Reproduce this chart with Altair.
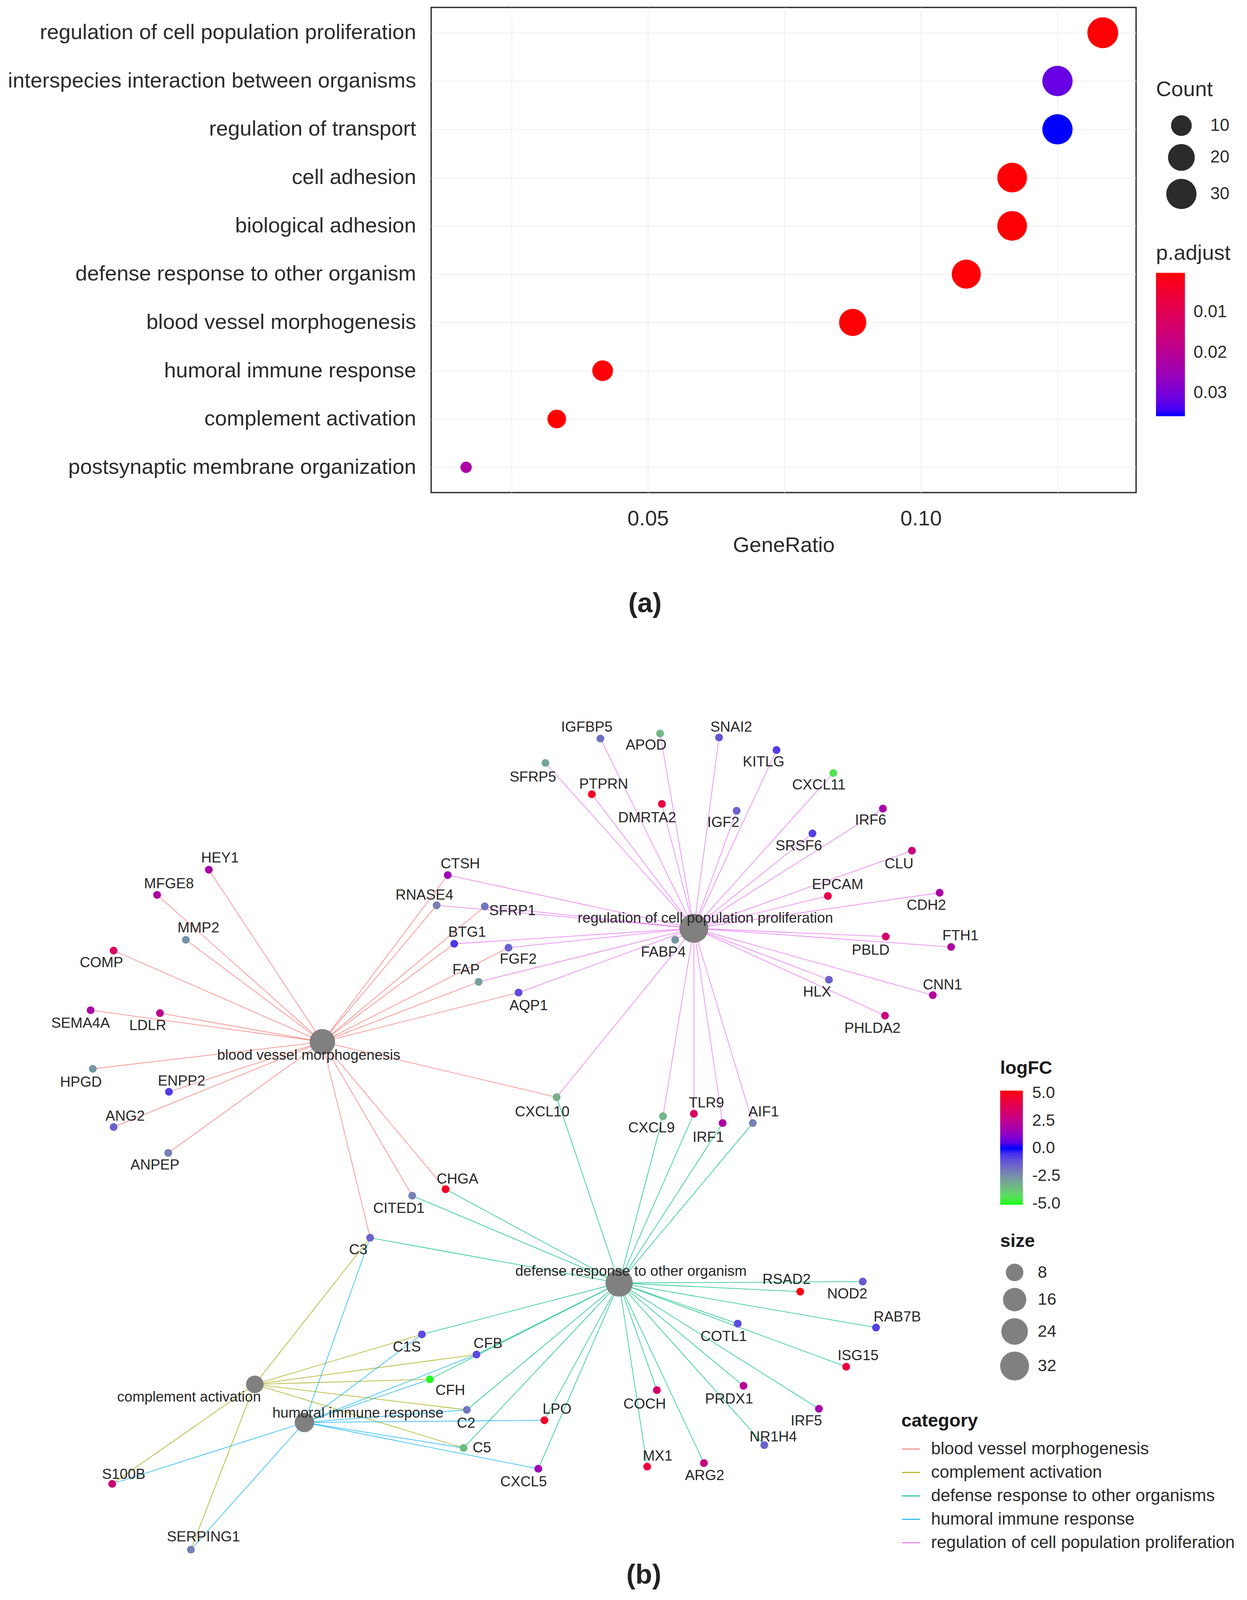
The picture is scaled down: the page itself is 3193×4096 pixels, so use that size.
import altair as alt
import pandas as pd

FONT = "Liberation Sans"
TXT = "#2b2b2b"

# ---------------- (a) GO enrichment dot plot ----------------
terms = [
    "regulation of cell population proliferation",
    "interspecies interaction between organisms",
    "regulation of transport",
    "cell adhesion",
    "biological adhesion",
    "defense response to other organism",
    "blood vessel morphogenesis",
    "humoral immune response",
    "complement activation",
    "postsynaptic membrane organization",
]
gene_ratio = [0.1333, 0.1250, 0.1250, 0.1167, 0.1167, 0.1083, 0.0875, 0.0417, 0.0333, 0.0167]
counts = [32, 30, 30, 28, 28, 26, 21, 10, 8, 4]
p_adjust = [0.0005, 0.0316, 0.0357, 0.0005, 0.0005, 0.0006, 0.0005, 0.0006, 0.0003, 0.0226]

dot_df = pd.DataFrame({"Description": terms, "GeneRatio": gene_ratio,
                       "Count": counts, "padj": p_adjust})

dot = alt.Chart(dot_df).transform_calculate(
    neg_p="-datum.padj"
).mark_circle(opacity=1).encode(
    x=alt.X("GeneRatio:Q",
            scale=alt.Scale(domain=[0.0103, 0.1394], nice=False, zero=False),
            axis=alt.Axis(values=[0.025, 0.05, 0.075, 0.1, 0.125],
                          labelExpr="abs(datum.value-0.05)<1e-9 || abs(datum.value-0.1)<1e-9 ? format(datum.value,'.2f') : ''",
                          grid=True, gridColor="#ebebeb", gridWidth=1.6,
                          ticks=False, tickSize=0, domain=False,
                          labelFontSize=54.5, labelColor=TXT, labelPadding=40,
                          labelFont=FONT,
                          title="GeneRatio", titleFontSize=54.5, titleFontWeight="normal",
                          titleColor=TXT, titlePadding=15, titleFont=FONT)),
    y=alt.Y("Description:N", sort=terms,
            scale=alt.Scale(type="point", padding=0.524),
            axis=alt.Axis(title=None, grid=True, gridColor="#ebebeb", gridWidth=1.6,
                          ticks=False, tickSize=0, domain=False,
                          labelFontSize=54.5, labelColor=TXT, labelPadding=39,
                          labelLimit=2000, labelFont=FONT)),
    size=alt.Size("Count:Q",
                  scale=alt.Scale(type="pow", exponent=0.3, domain=[4, 32], range=[841, 6241]),
                  legend=alt.Legend(title="Count", values=[10, 20, 30], orient="none",
                                    legendX=1856, legendY=184,
                                    titleFontSize=54.5, titleFontWeight="normal", titleColor=TXT,
                                    titleFont=FONT, titlePadding=37, titleLimit=1000,
                                    labelFontSize=44, labelColor=TXT, labelFont=FONT,
                                    labelOffset=35, symbolOffset=26,
                                    symbolFillColor="#2b2b2b", symbolStrokeWidth=0,
                                    symbolOpacity=1, symbolType="circle", rowPadding=20)),
    color=alt.Color("neg_p:Q",
                    scale=alt.Scale(domain=[-0.0357, -0.0003], range=["#0000ff", "#ff0000"],
                                    interpolate="lab"),
                    legend=alt.Legend(title="p.adjust", orient="none", direction="vertical",
                                      legendX=1856, legendY=603,
                                      values=[-0.03, -0.02, -0.01],
                                      labelExpr="format(-datum.value, '.2f')",
                                      gradientLength=367, gradientThickness=74,
                                      gradientStrokeWidth=0, labelOverlap=False,
                                      titleFontSize=54.5, titleFontWeight="normal",
                                      titleColor=TXT, titleFont=FONT, titlePadding=22,
                                      titleLimit=1000,
                                      labelFontSize=44, labelColor=TXT, labelFont=FONT,
                                      labelOffset=22)),
).properties(
    width=1805, height=1242,
    view=alt.ViewBackground(stroke="#333333", strokeWidth=3.5),
    title=alt.TitleParams(text="(a)", orient="bottom", anchor="middle", frame="group",
                          dx=-355, offset=89, fontSize=70, fontWeight="bold",
                          font=FONT, color="#222222"),
)

# ---------------- (b) gene-concept network ----------------
gene_names = ["IGFBP5", "APOD", "SNAI2", "KITLG", "SFRP5", "PTPRN", "DMRTA2", "CXCL11",
              "IGF2", "IRF6", "SRSF6", "CLU", "EPCAM", "CDH2", "PBLD", "FTH1", "FABP4",
              "HLX", "CNN1", "PHLDA2", "FGF2", "AQP1", "SFRP1", "CTSH", "RNASE4", "BTG1",
              "FAP", "CXCL10", "CXCL9", "TLR9", "IRF1", "AIF1",
              "HEY1", "MFGE8", "MMP2", "COMP", "SEMA4A", "LDLR", "HPGD", "ENPP2", "ANG2",
              "ANPEP", "CHGA", "CITED1", "C3",
              "RSAD2", "NOD2", "RAB7B", "COTL1", "ISG15", "PRDX1", "COCH", "IRF5", "NR1H4",
              "ARG2", "MX1", "LPO", "CXCL5",
              "C1S", "CFB", "CFH", "C2", "C5", "S100B", "SERPING1"]
gene_x = [1669, 1835, 1999, 2159, 1516, 1645, 1840, 2317,
          2048, 2455, 2259, 2536, 2302, 2613, 2463, 2645, 1877,
          2305, 2594, 2461, 1413, 1441, 1347, 1244, 1213, 1262,
          1330, 1547, 1843, 1929, 2009, 2093,
          579, 435, 515, 314, 250, 443, 256, 468, 314,
          466, 1238, 1145, 1028,
          2225, 2399, 2436, 2051, 2353, 2067, 1826, 2277, 2125,
          1957, 1799, 1513, 1496,
          1172, 1324, 1194, 1297, 1288, 310, 529]
gene_y = [2054, 2040, 2051, 2086, 2122, 2209, 2236, 2150,
          2255, 2249, 2318, 2366, 2492, 2483, 2605, 2634, 2614,
          2725, 2768, 2825, 2636, 2761, 2521, 2434, 2518, 2625,
          2731, 3052, 3105, 3098, 3124, 3124,
          2419, 2489, 2614, 2644, 2810, 2818, 2973, 3037, 3135,
          3207, 3308, 3326, 3443,
          3593, 3565, 3693, 3682, 3802, 3855, 3867, 3919, 4020,
          4070, 4080, 3951, 4086,
          3712, 3768, 3837, 3922, 4028, 4128, 4311]
gene_logfc = [-1.8, -3.5, -1.2, -0.7, -3.0, 4.8, 4.2, -4.5,
              -1.5, 1.8, -0.8, 2.8, 4.0, 2.0, 3.2, 2.0, -2.6,
              -1.5, 2.2, 2.8, -1.5, -1.0, -1.9, 1.6, -2.2, -0.6,
              -2.9, -3.3, -3.4, 3.6, 2.0, -2.2,
              1.9, 2.0, -2.6, 3.5, 2.0, 2.5, -2.7, -0.7, -1.5,
              -2.2, 4.8, -2.2, -1.5,
              5.0, -1.3, -0.8, -1.0, 4.3, 2.3, 3.3, 1.8, -1.5,
              2.8, 4.3, 4.7, 1.6,
              -1.0, -1.0, -5.0, -1.9, -3.5, 3.0, -2.2]
gene_label_x = [1631, 1796, 2033, 2123, 1481, 1678, 1799, 2277,
                2011, 2421, 2221, 2500, 2329, 2576, 2421, 2671, 1844,
                2272, 2621, 2426, 1440, 1469, 1424, 1279, 1179, 1298,
                1295, 1507, 1811, 1964, 1969, 2123,
                610, 468, 550, 280, 222, 409, 223, 503, 346,
                429, 1271, 1108, 995,
                2187, 2356, 2495, 2012, 2386, 2027, 1792, 2242, 2150,
                1959, 1828, 1548, 1455,
                1130, 1356, 1251, 1295, 1339, 342, 564]
gene_label_y = [2023, 2073, 2023, 2120, 2162, 2181, 2275, 2184,
                2288, 2281, 2353, 2403, 2461, 2518, 2643, 2603, 2649,
                2760, 2740, 2861, 2669, 2798, 2534, 2403, 2490, 2593,
                2698, 3094, 3138, 3068, 3164, 3094,
                2387, 2459, 2581, 2678, 2847, 2853, 3011, 3008, 3105,
                3241, 3280, 3362, 3477,
                3560, 3600, 3664, 3718, 3772, 3892, 3906, 3953, 3998,
                4105, 4051, 3921, 4123,
                3748, 3738, 3868, 3960, 4028, 4102, 4276]

cat_labels = ["regulation of cell population proliferation", "blood vessel morphogenesis",
              "defense response to other organism", "complement activation",
              "humoral immune response"]
cat_legend = ["regulation of cell population proliferation", "blood vessel morphogenesis",
              "defense response to other organisms", "complement activation",
              "humoral immune response"]
cat_x = [1929, 895, 1721, 707, 845]
cat_y = [2582, 2898, 3569, 3851, 3957]
cat_size = [32, 21, 26, 8, 10]
cat_label_x = [1961, 857, 1754, 524, 994]
cat_label_y = [2554, 2936, 3537, 3887, 3931]

members_prolif = ["IGFBP5", "APOD", "SNAI2", "KITLG", "SFRP5", "PTPRN", "DMRTA2", "CXCL11",
                  "IGF2", "IRF6", "SRSF6", "CLU", "EPCAM", "CDH2", "PBLD", "FTH1", "FABP4",
                  "HLX", "CNN1", "PHLDA2", "FGF2", "AQP1", "SFRP1", "CTSH", "RNASE4", "BTG1",
                  "FAP", "CXCL10", "CXCL9", "TLR9", "IRF1", "AIF1"]
members_bvm = ["HEY1", "MFGE8", "MMP2", "COMP", "SEMA4A", "LDLR", "HPGD", "ENPP2", "ANG2",
               "ANPEP", "CTSH", "RNASE4", "SFRP1", "BTG1", "FGF2", "FAP", "AQP1", "CXCL10",
               "CHGA", "CITED1", "C3"]
members_defense = ["CXCL10", "CXCL9", "TLR9", "IRF1", "AIF1", "CHGA", "CITED1", "C3",
                   "RSAD2", "NOD2", "RAB7B", "COTL1", "ISG15", "PRDX1", "IRF5", "NR1H4",
                   "ARG2", "MX1", "COCH", "LPO", "CXCL5", "C5", "C2", "CFH", "CFB", "C1S"]
members_complement = ["C3", "C1S", "CFB", "CFH", "C2", "C5", "S100B", "SERPING1"]
members_humoral = ["C3", "C1S", "CFB", "CFH", "C2", "LPO", "C5", "CXCL5", "S100B", "SERPING1"]
members = [members_prolif, members_bvm, members_defense, members_complement, members_humoral]

legend_order = ["blood vessel morphogenesis", "complement activation",
                "defense response to other organisms", "humoral immune response",
                "regulation of cell population proliferation"]
legend_colors = ["#F8766D", "#A3A500", "#00BF7D", "#00B0F6", "#E76BF3"]

genes_df = pd.DataFrame({"name": gene_names, "x": gene_x, "y": gene_y, "logFC": gene_logfc,
                         "lx": gene_label_x, "ly": gene_label_y})
cats_df = pd.DataFrame({"name": cat_labels, "category": cat_legend, "x": cat_x, "y": cat_y,
                        "size": cat_size, "lx": cat_label_x, "ly": cat_label_y})
gpos = genes_df.set_index("name")
rows = []
for i, mem in enumerate(members):
    for g in mem:
        rows.append({"category": cat_legend[i], "x": cat_x[i], "y": cat_y[i],
                     "x2": int(gpos.loc[g, "x"]), "y2": int(gpos.loc[g, "y"])})
edges_df = pd.DataFrame(rows)

XS = alt.Scale(domain=[1197.8, 3159.8], nice=False, zero=False)
YS = alt.Scale(domain=[1950, 4340], nice=False, zero=False, reverse=True)

edges = alt.Chart(edges_df).mark_rule(strokeWidth=1.8, opacity=0.8).encode(
    x=alt.X("x:Q", scale=XS, axis=None),
    y=alt.Y("y:Q", scale=YS, axis=None),
    x2="x2:Q", y2="y2:Q",
    color=alt.Color("category:N",
                    scale=alt.Scale(domain=legend_order, range=legend_colors),
                    legend=alt.Legend(title="category", orient="none", legendX=1204, legendY=1820,
                                      symbolType="stroke", symbolStrokeWidth=3, symbolSize=2116,
                                      symbolOpacity=0.8,
                                      titleFontSize=47, titleFontWeight="bold", titleColor="#1a1a1a",
                                      titleFont=FONT, titlePadding=23, titleLimit=1000,
                                      labelFontSize=44, labelColor=TXT, labelFont=FONT,
                                      labelOffset=27, rowPadding=13, labelLimit=2000)),
)

gene_nodes = alt.Chart(genes_df).mark_circle(opacity=1, size=400).encode(
    x=alt.X("x:Q", scale=XS, axis=None),
    y=alt.Y("y:Q", scale=YS, axis=None),
    fill=alt.Fill("logFC:Q",
                  scale=alt.Scale(domain=[-5.11, 0, 5.21],
                                  range=["#00ff00", "#0000ff", "#ff0000"], interpolate="lab"),
                  legend=alt.Legend(title="logFC", orient="none", direction="vertical",
                                    legendX=1457, legendY=917,
                                    values=[-5, -2.5, 0, 2.5, 5],
                                    labelExpr="replace(format(datum.value, '.1f'), '\u2212', '-')",
                                    gradientLength=292, gradientThickness=58,
                                    gradientStrokeWidth=0, labelOverlap=False,
                                    labelAlign="right", labelOffset=24, labelBaseline="middle",
                                    titleFontSize=47, titleFontWeight="bold", titleColor="#1a1a1a",
                                    titleFont=FONT, titlePadding=33, titleLimit=1000,
                                    labelFontSize=42, labelColor=TXT, labelFont=FONT)),
)

cat_nodes = alt.Chart(cats_df).mark_circle(opacity=1, color="#808080").encode(
    x=alt.X("x:Q", scale=XS, axis=None),
    y=alt.Y("y:Q", scale=YS, axis=None),
    size=alt.Size("size:Q",
                  scale=alt.Scale(type="pow", exponent=0.3, domain=[8, 32], range=[2025, 5476]),
                  legend=alt.Legend(title="size", values=[8, 16, 24, 32], orient="none",
                                    legendX=1457, legendY=1360,
                                    symbolFillColor="#808080", symbolStrokeWidth=0,
                                    symbolOpacity=1, symbolType="circle",
                                    titleFontSize=47, titleFontWeight="bold", titleColor="#1a1a1a",
                                    titleFont=FONT, titlePadding=33, titleLimit=1000,
                                    labelFontSize=43, labelColor=TXT, labelFont=FONT,
                                    labelOffset=22, rowPadding=17)),
)

gene_text = alt.Chart(genes_df).mark_text(fontSize=37, font=FONT, color="#262626",
                                          align="center", baseline="middle").encode(
    x=alt.X("lx:Q", scale=XS, axis=None),
    y=alt.Y("ly:Q", scale=YS, axis=None),
    text="name:N",
)
cat_text = alt.Chart(cats_df).mark_text(fontSize=37, font=FONT, color="#262626",
                                        align="center", baseline="middle").encode(
    x=alt.X("lx:Q", scale=XS, axis=None),
    y=alt.Y("ly:Q", scale=YS, axis=None),
    text="name:N",
)

network = alt.layer(edges, gene_nodes, cat_nodes, gene_text, cat_text).resolve_scale(
    color="independent", fill="independent", size="independent"
).properties(
    width=1805, height=2198.8,
    view=alt.ViewBackground(stroke=None),
    title=alt.TitleParams(text="(b)", orient="bottom", anchor="middle", frame="group",
                          dx=-358, offset=5, fontSize=70, fontWeight="bold",
                          font=FONT, color="#222222"),
)

chart = alt.vconcat(dot, network, spacing=212).properties(
    padding={"left": 10, "top": 9, "right": 5, "bottom": 5}
).configure(font=FONT).configure_view(stroke=None)

chart.save("out.html", embed_options={"renderer": "svg", "actions": False})
